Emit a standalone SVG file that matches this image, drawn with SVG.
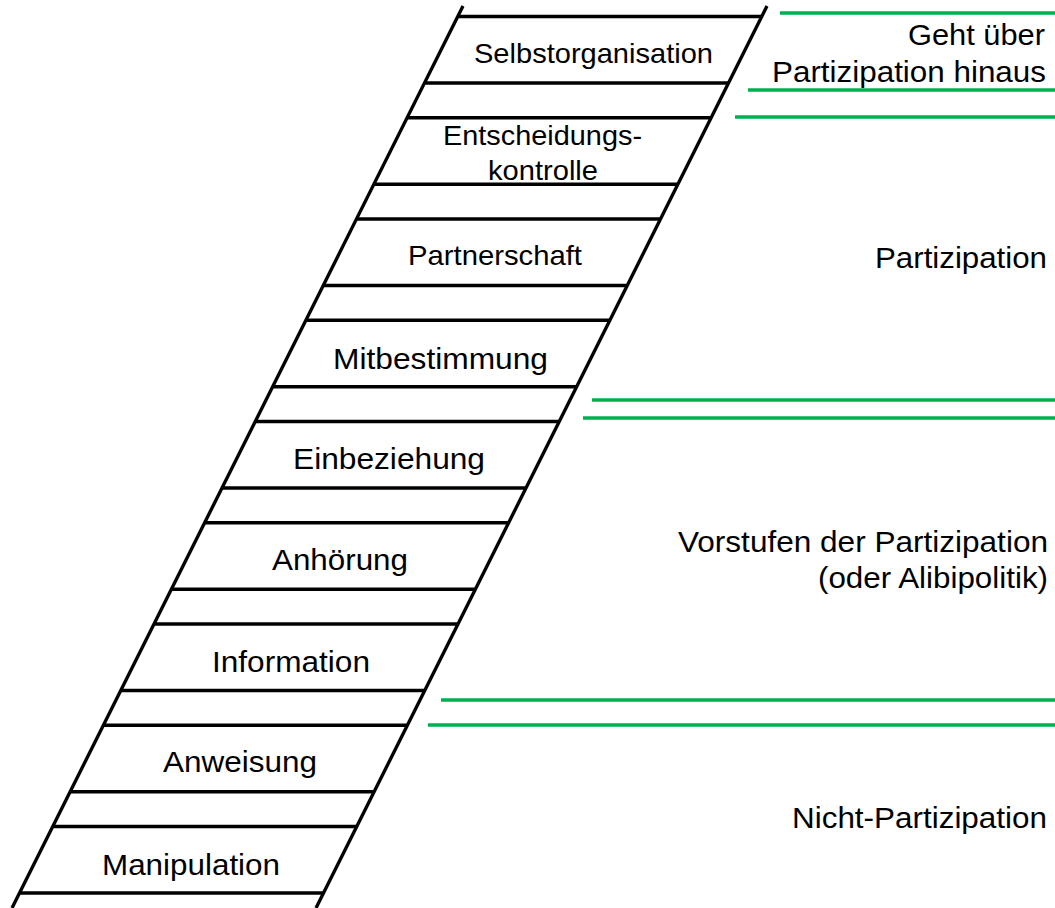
<svg xmlns="http://www.w3.org/2000/svg" width="1055" height="908" viewBox="0 0 1055 908">
<style>
.rail{stroke:#000;stroke-width:3.3;fill:none}
.rung{stroke:#000;stroke-width:3.3;fill:none}
.sep{stroke:#00B050;stroke-width:3.5;fill:none}
.lbl{font-family:"Liberation Sans",Arial,sans-serif;fill:#000;font-size:29px}
.sm{font-size:28px}
</style>
<rect width="1055" height="908" fill="#fff"/>
<g id="connectors">
<line class="rail" x1="463" y1="6" x2="12" y2="908"/>
<line class="rail" x1="767" y1="6" x2="316" y2="908"/>
</g>
<g id="node-selbstorganisation">
<line class="rung" x1="457.75" y1="16.5" x2="761.75" y2="16.5"/>
<line class="rung" x1="424.5" y1="83" x2="728.5" y2="83"/>
<text class="lbl sm" x="474" y="63" textLength="239" lengthAdjust="spacingAndGlyphs">Selbstorganisation</text>
</g>
<g id="node-entscheidungskontrolle">
<line class="rung" x1="407.125" y1="117.75" x2="711.125" y2="117.75"/>
<line class="rung" x1="373.875" y1="184.25" x2="677.875" y2="184.25"/>
<text class="lbl sm" x="443" y="145" textLength="199" lengthAdjust="spacingAndGlyphs">Entscheidungs-</text>
<text class="lbl sm" x="488" y="180" textLength="110" lengthAdjust="spacingAndGlyphs">kontrolle</text>
</g>
<g id="node-partnerschaft">
<line class="rung" x1="356.5" y1="219" x2="660.5" y2="219"/>
<line class="rung" x1="323.25" y1="285.5" x2="627.25" y2="285.5"/>
<text class="lbl sm" x="408" y="265" textLength="174" lengthAdjust="spacingAndGlyphs">Partnerschaft</text>
</g>
<g id="node-mitbestimmung">
<line class="rung" x1="305.875" y1="320.25" x2="609.875" y2="320.25"/>
<line class="rung" x1="272.625" y1="386.75" x2="576.625" y2="386.75"/>
<text class="lbl" x="333" y="369" textLength="215" lengthAdjust="spacingAndGlyphs">Mitbestimmung</text>
</g>
<g id="node-einbeziehung">
<line class="rung" x1="255.25" y1="421.5" x2="559.25" y2="421.5"/>
<line class="rung" x1="222" y1="488" x2="526" y2="488"/>
<text class="lbl" x="293" y="469" textLength="192" lengthAdjust="spacingAndGlyphs">Einbeziehung</text>
</g>
<g id="node-anhoerung">
<line class="rung" x1="204.625" y1="522.75" x2="508.625" y2="522.75"/>
<line class="rung" x1="171.375" y1="589.25" x2="475.375" y2="589.25"/>
<text class="lbl" x="272" y="570" textLength="136" lengthAdjust="spacingAndGlyphs">Anhörung</text>
</g>
<g id="node-information">
<line class="rung" x1="154" y1="624" x2="458" y2="624"/>
<line class="rung" x1="120.75" y1="690.5" x2="424.75" y2="690.5"/>
<text class="lbl" x="212" y="672" textLength="158" lengthAdjust="spacingAndGlyphs">Information</text>
</g>
<g id="node-anweisung">
<line class="rung" x1="103.375" y1="725.25" x2="407.375" y2="725.25"/>
<line class="rung" x1="70.125" y1="791.75" x2="374.125" y2="791.75"/>
<text class="lbl" x="163" y="772" textLength="154" lengthAdjust="spacingAndGlyphs">Anweisung</text>
</g>
<g id="node-manipulation">
<line class="rung" x1="52.75" y1="826.5" x2="356.75" y2="826.5"/>
<line class="rung" x1="19.5" y1="893" x2="323.5" y2="893"/>
<text class="lbl" x="102" y="875" textLength="178" lengthAdjust="spacingAndGlyphs">Manipulation</text>
</g>
<g id="separators">
<line class="sep" x1="780" y1="13" x2="1055" y2="13"/>
<line class="sep" x1="748" y1="90" x2="1055" y2="90"/>
<line class="sep" x1="735" y1="117" x2="1055" y2="117"/>
<line class="sep" x1="592" y1="400" x2="1055" y2="400"/>
<line class="sep" x1="583" y1="418" x2="1055" y2="418"/>
<line class="sep" x1="441" y1="700" x2="1055" y2="700"/>
<line class="sep" x1="428" y1="725" x2="1055" y2="725"/>
</g>
<g id="group-beyond">
<text class="lbl" x="908" y="45" textLength="137" lengthAdjust="spacingAndGlyphs">Geht über</text>
<text class="lbl" x="772" y="82" textLength="274" lengthAdjust="spacingAndGlyphs">Partizipation hinaus</text>
</g>
<g id="group-participation">
<text class="lbl" x="875" y="268" textLength="172" lengthAdjust="spacingAndGlyphs">Partizipation</text>
</g>
<g id="group-tokenism">
<text class="lbl" x="678" y="552" textLength="370" lengthAdjust="spacingAndGlyphs">Vorstufen der Partizipation</text>
<text class="lbl" x="818" y="588" textLength="230" lengthAdjust="spacingAndGlyphs">(oder Alibipolitik)</text>
</g>
<g id="group-nonparticipation">
<text class="lbl" x="792" y="828" textLength="255" lengthAdjust="spacingAndGlyphs">Nicht-Partizipation</text>
</g>
</svg>
